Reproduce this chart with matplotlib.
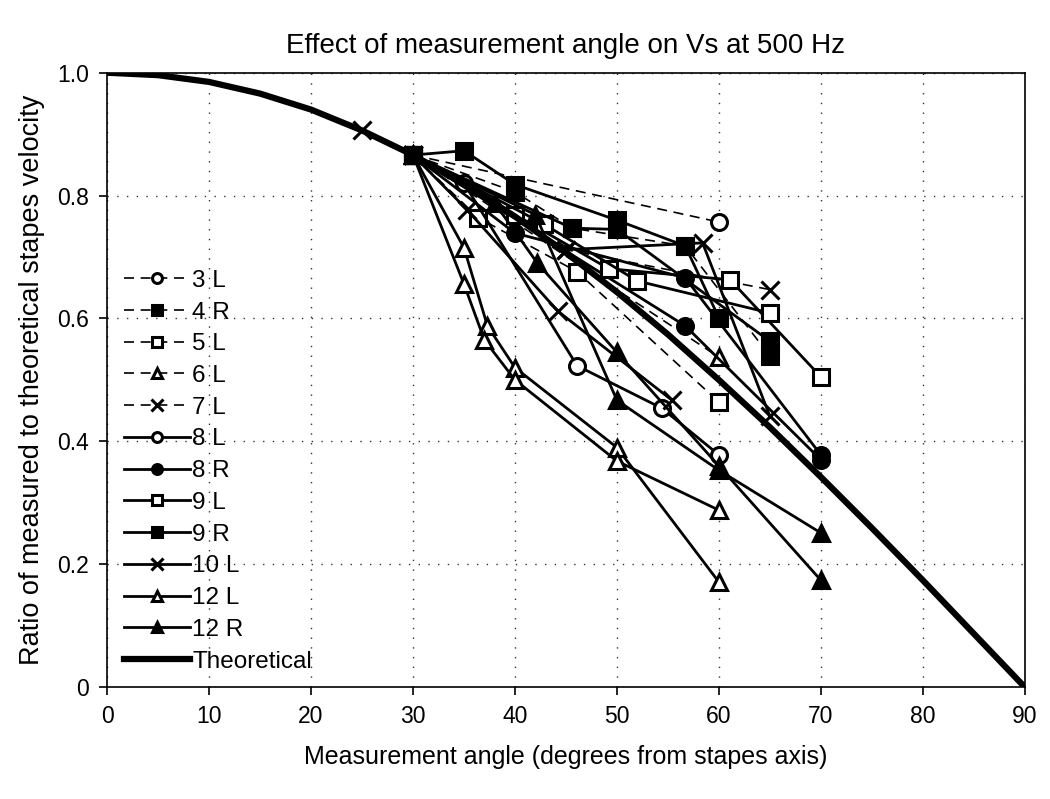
import matplotlib
matplotlib.use('Agg')
import matplotlib.pyplot as plt
from matplotlib.ticker import FuncFormatter

plt.rcParams['font.family'] = ['Liberation Sans', 'DejaVu Sans']

# theoretical curve read at 5 degree steps
theo_x = [0, 5, 10, 15, 20, 25, 30, 35, 40, 45, 50, 55, 60, 65, 70, 75, 80, 85, 90]
theo_y = [1.0, 0.996, 0.985, 0.966, 0.94, 0.906, 0.866, 0.819, 0.766, 0.707,
          0.643, 0.574, 0.5, 0.423, 0.342, 0.259, 0.174, 0.087, 0.0]

# measured ears: each is a list of traces (angles, ratios)
ear_3L = [([30, 60], [0.866, 0.757])]
ear_4R = [([30, 40, 45.6, 56.7, 65], [0.866, 0.806, 0.747, 0.718, 0.539])]
ear_5L = [([30, 36.4, 46.1, 60], [0.866, 0.764, 0.676, 0.464])]
ear_6L = [([30, 60], [0.866, 0.537])]
ear_7L = [([25, 30, 45, 65], [0.906, 0.866, 0.712, 0.647])]
ear_8L = [([30, 35, 46.1, 54.4, 60], [0.866, 0.82, 0.523, 0.454, 0.378])]
ear_8R = [([30, 40, 56.7, 70], [0.866, 0.739, 0.666, 0.378]),
          ([30, 56.7, 70], [0.866, 0.588, 0.37])]
ear_9L = [([30, 40, 49.2, 61.1, 70], [0.866, 0.769, 0.681, 0.663, 0.505]),
          ([30, 42.8, 52, 65], [0.866, 0.754, 0.661, 0.609])]
ear_9R = [([30, 35, 40, 50, 56.7, 60], [0.866, 0.873, 0.818, 0.76, 0.718, 0.601]),
          ([30, 45.6, 50, 65], [0.866, 0.747, 0.745, 0.563])]
ear_10L = [([30, 35.3, 44.2, 55.4], [0.866, 0.777, 0.612, 0.467]),
           ([30, 45, 58.4, 65], [0.866, 0.712, 0.723, 0.441])]
ear_12L = [([30, 35, 37.3, 40, 50, 60], [0.866, 0.715, 0.588, 0.52, 0.39, 0.171]),
           ([30, 35, 37, 40, 50, 60], [0.866, 0.656, 0.565, 0.50, 0.368, 0.288])]
ear_12R = [([30, 38, 42.2, 50, 60, 70], [0.866, 0.788, 0.69, 0.545, 0.36, 0.174]),
           ([30, 42, 50, 60, 70], [0.866, 0.769, 0.467, 0.353, 0.251])]

series = [
    ('3 L', ear_3L, 'o', 'white', 'dashed'),
    ('4 R', ear_4R, 's', 'black', 'dashed'),
    ('5 L', ear_5L, 's', 'white', 'dashed'),
    ('6 L', ear_6L, '^', 'white', 'dashed'),
    ('7 L', ear_7L, 'x', 'black', 'dashed'),
    ('8 L', ear_8L, 'o', 'white', 'solid'),
    ('8 R', ear_8R, 'o', 'black', 'solid'),
    ('9 L', ear_9L, 's', 'white', 'solid'),
    ('9 R', ear_9R, 's', 'black', 'solid'),
    ('10 L', ear_10L, 'x', 'black', 'solid'),
    ('12 L', ear_12L, '^', 'white', 'solid'),
    ('12 R', ear_12R, '^', 'black', 'solid'),
]

fig = plt.figure(figsize=(10.5, 7.99), dpi=100)
ax = fig.add_axes([0.102, 0.140, 0.874, 0.769])

for name, traces, mk, fc, ls in series:
    size = 13 if mk == 'x' else 11.5
    for i, (xs, ys) in enumerate(traces):
        if ls == 'dashed':
            ax.plot(xs, ys, color='black', lw=1.2, ls=(0, (6, 4)), marker=mk,
                    mfc=fc, mec='black', mew=2.2, ms=size,
                    label=name if i == 0 else None, zorder=3)
        else:
            ax.plot(xs, ys, color='black', lw=2.0, ls='-', marker=mk,
                    mfc=fc, mec='black', mew=2.2, ms=size,
                    label=name if i == 0 else None, zorder=3)

ax.plot(theo_x, theo_y, color='black', lw=4.5, label='Theoretical', zorder=4)

ax.set_xlim(0, 90)
ax.set_ylim(0, 1.0)
ax.set_xticks(range(0, 91, 10))
ax.set_yticks([0, 0.2, 0.4, 0.6, 0.8, 1.0])
ax.yaxis.set_major_formatter(FuncFormatter(lambda v, p: '0' if v == 0 else f'{v:.1f}'))
ax.tick_params(direction='out', length=6, width=1.2, labelsize=16.5, pad=7)
ax.grid(True, color='0.2', ls=(0, (1, 6)), lw=1)
for s in ax.spines.values():
    s.set_linewidth(1.2)

ax.set_title('Effect of measurement angle on Vs at 500 Hz', fontsize=20, pad=14)
ax.set_xlabel('Measurement angle (degrees from stapes axis)', fontsize=18, labelpad=12)
ax.set_ylabel('Ratio of measured to theoretical stapes velocity', fontsize=19.5, labelpad=9)

leg = ax.legend(loc='upper left', bbox_to_anchor=(0.0, 0.707), frameon=False,
                fontsize=17.5, handlelength=2.7, handletextpad=0.1,
                labelspacing=0.40, markerscale=0.62, borderaxespad=0.3)

fig.savefig('out.png', dpi=100)
